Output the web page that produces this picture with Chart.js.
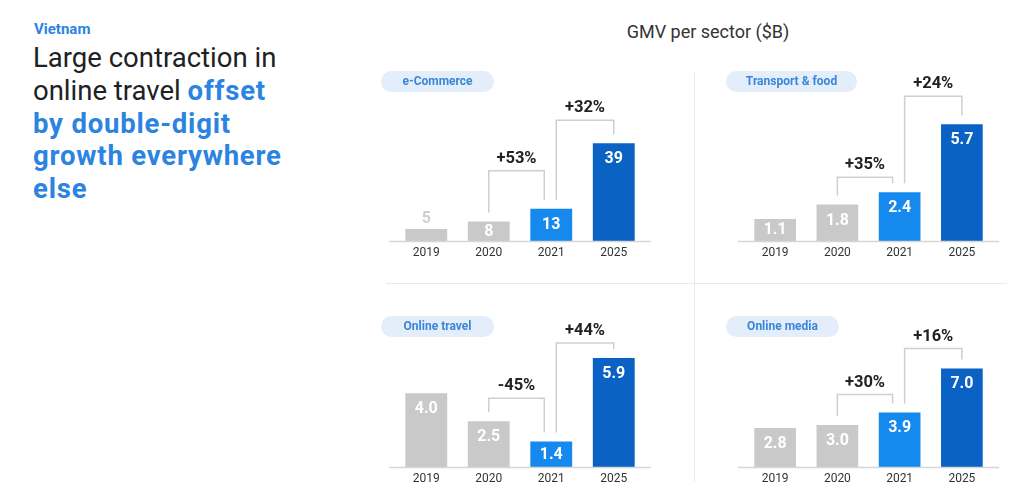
<!DOCTYPE html>
<html lang="en">
<head>
  <meta charset="UTF-8" />
  <title>Vietnam GMV per sector</title>
  <script src="https://cdn.jsdelivr.net/npm/chart.js"></script>
  <style>
    html, body { margin: 0; padding: 0; background: #fff; }
    body { width: 1024px; height: 499px; position: relative; overflow: hidden; font-family: Roboto, Arial, sans-serif; }
    .country { position: absolute; left: 34px; top: 20px; font-size: 15px; font-weight: 700; color: #2a84e0; }
    .headline { position: absolute; left: 33px; top: 42px; width: 320px; font-size: 27.5px; line-height: 32.8px; color: #202124; }
    .headline b { color: #2a84e0; font-weight: 700; letter-spacing: 0.8px; }
    .title { position: absolute; left: 560px; width: 296px; top: 21px; text-align: center; font-size: 18px; color: #333; }
    .vline { position: absolute; left: 694px; top: 72px; width: 1px; height: 410px; background: #e9e9e9; }
    .hline { position: absolute; left: 386px; top: 283px; width: 621px; height: 1px; background: #e9e9e9; }
    .box { position: absolute; width: 290px; height: 210px; }
    .pill { position: absolute; height: 21px; line-height: 21px; border-radius: 11px; background: #e4eefb;
            color: #3a86d8; font-size: 12px; font-weight: 700; text-align: center; z-index: 2; }
  </style>
</head>
<body>
  <div class="country">Vietnam</div>
  <div class="headline">Large contraction in<br>online travel <b>offset<br>by double-digit<br>growth everywhere<br>else</b></div>
  <div class="title">GMV per sector ($B)</div>
  <div class="vline"></div>
  <div class="hline"></div>

  <div class="pill" style="left:381px; top:71px; width:113px;">e-Commerce</div>
  <div class="pill" style="left:726px; top:71px; width:131px;">Transport &amp; food</div>
  <div class="pill" style="left:381px; top:316px; width:113px;">Online travel</div>
  <div class="pill" style="left:726px; top:316px; width:113px;">Online media</div>

  <div class="box" style="left:380px; top:60px;"><canvas id="ecom"></canvas></div>
  <div class="box" style="left:725px; top:60px;"><canvas id="transport"></canvas></div>
  <div class="box" style="left:380px; top:286px;"><canvas id="travel"></canvas></div>
  <div class="box" style="left:725px; top:286px;"><canvas id="media"></canvas></div>

  <script>
    // data
    const years = ['2019', '2020', '2021', '2025'];
    const ecommerce = [5, 8, 13, 39];
    const transport = [1.1, 1.8, 2.4, 5.7];
    const travel = [4.0, 2.5, 1.4, 5.9];
    const media = [2.8, 3.0, 3.9, 7.0];

    // growth 2020->2021, 2021->2025
    const ecommerceGrowth = ['+53%', '+32%'];
    const transportGrowth = ['+35%', '+24%'];
    const travelGrowth = ['-45%', '+44%'];
    const mediaGrowth = ['+30%', '+16%'];

    const barColors = ['#c9c9c9', '#c9c9c9', '#1589ee', '#0a63c4'];

    // value labels, growth brackets and baseline
    const decorPlugin = {
      id: 'decor',
      afterDatasetsDraw(chart, args, opts) {
        const ctx = chart.ctx;
        const bars = chart.getDatasetMeta(0).data;
        const values = chart.data.datasets[0].data;
        const base = chart.scales.y.getPixelForValue(0);
        const area = chart.chartArea;

        ctx.save();
        // baseline
        ctx.strokeStyle = '#d6d6d6';
        ctx.lineWidth = 1.5;
        ctx.beginPath();
        ctx.moveTo(area.left - 6, base);
        ctx.lineTo(area.right + 6, base);
        ctx.stroke();

        // values
        ctx.font = 'bold 16px Roboto, Arial, sans-serif';
        ctx.textAlign = 'center';
        ctx.textBaseline = 'middle';
        bars.forEach((bar, i) => {
          const h = base - bar.y;
          const txt = values[i].toFixed(opts.decimals);
          if (h < 16) {
            ctx.fillStyle = '#d0d0d0';
            ctx.fillText(txt, bar.x, bar.y - 10);
          } else {
            ctx.fillStyle = '#fff';
            ctx.fillText(txt, bar.x, Math.min(bar.y + 16, bar.y + h / 2));
          }
        });

        // brackets
        ctx.strokeStyle = '#cfcfcf';
        ctx.lineWidth = 1.5;
        ctx.font = 'bold 16.5px Roboto, Arial, sans-serif';
        const pairs = [[1, 2, 0, -7], [2, 3, 5, 0]];
        pairs.forEach(([a, b, da, db], k) => {
          const xa = bars[a].x + da, xb = bars[b].x + db;
          const ya = bars[a].y - 9, yb = bars[b].y - 9;
          const top = Math.min(ya, yb) - 14 - opts.lift[k];
          ctx.beginPath();
          ctx.moveTo(xa, ya);
          ctx.lineTo(xa, top);
          ctx.lineTo(xb, top);
          ctx.lineTo(xb, yb);
          ctx.stroke();
          ctx.fillStyle = '#222';
          ctx.fillText(opts.growth[k], (xa + xb) / 2, top - 12);
        });
        ctx.restore();
      }
    };

    function makeChart(id, values, growth, yMax, decimals, padLeft, padRight, lift) {
      const ctx = document.getElementById(id).getContext('2d');
      return new Chart(ctx, {
        type: 'bar',
        data: {
          labels: years,
          datasets: [{
            data: values,
            backgroundColor: barColors,
            barPercentage: 1,
            categoryPercentage: 42 / 62.7
          }]
        },
        options: {
          responsive: true,
          maintainAspectRatio: false,
          animation: false,
          layout: { padding: { top: 40, bottom: 6, left: padLeft, right: padRight } },
          plugins: {
            legend: { display: false },
            tooltip: { enabled: false },
            decor: { growth: growth, decimals: decimals, lift: lift }
          },
          scales: {
            x: {
              grid: { display: false, drawTicks: false },
              border: { display: false },
              ticks: { color: '#333', padding: 4, font: { family: 'Roboto, Arial, sans-serif', size: 12 } }
            },
            y: { display: false, min: 0, max: yMax }
          }
        },
        plugins: [decorPlugin]
      });
    }

    makeChart('ecom', ecommerce, ecommerceGrowth, 56.2, 0, 15, 25, [15, 0]);
    makeChart('transport', transport, transportGrowth, 6.88, 1, 19, 22, [-8, 5]);
    makeChart('travel', travel, travelGrowth, 7.62, 1, 15, 25, [0, -8]);
    makeChart('media', media, mediaGrowth, 10.0, 1, 19, 22, [-5, -3]);
  </script>
</body>
</html>
